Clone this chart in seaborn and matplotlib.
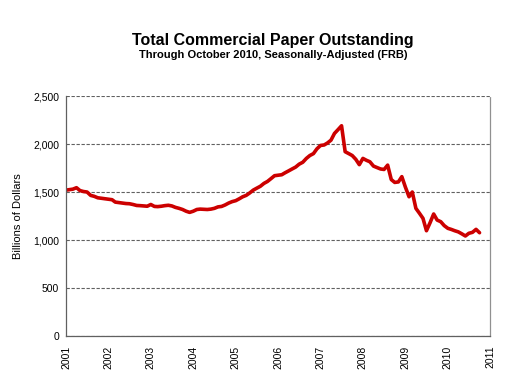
import pandas as pd
import numpy as np
import matplotlib
matplotlib.use("Agg")
import matplotlib.pyplot as plt
import matplotlib.dates as mdates
import seaborn as sns

# monthly values, billions of dollars (Jan 2001 - Oct 2010)
v2001 = [1520, 1525, 1530, 1545, 1515, 1505, 1500, 1465, 1455, 1440, 1435, 1430]
v2002 = [1425, 1420, 1395, 1390, 1385, 1380, 1378, 1370, 1360, 1358, 1355, 1352]
v2003 = [1370, 1350, 1348, 1352, 1358, 1362, 1355, 1340, 1330, 1318, 1300, 1288]
v2004 = [1300, 1318, 1322, 1320, 1318, 1322, 1330, 1345, 1350, 1365, 1385, 1400]
v2005 = [1410, 1430, 1450, 1465, 1490, 1520, 1540, 1560, 1590, 1610, 1640, 1670]
v2006 = [1675, 1680, 1700, 1720, 1740, 1760, 1790, 1810, 1850, 1880, 1900, 1950]
v2007 = [1985, 1990, 2010, 2040, 2110, 2150, 2190, 1920, 1900, 1880, 1840, 1785]
v2008 = [1850, 1830, 1815, 1770, 1755, 1740, 1735, 1780, 1630, 1600, 1605, 1660]
v2009 = [1550, 1451, 1500, 1330, 1280, 1226, 1097, 1180, 1271, 1208, 1191, 1150]
v2010 = [1122, 1110, 1097, 1085, 1065, 1042, 1070, 1080, 1111, 1076]

values = v2001 + v2002 + v2003 + v2004 + v2005 + v2006 + v2007 + v2008 + v2009 + v2010
dates = pd.date_range("2001-01-01", periods=len(values), freq="MS")
df = pd.DataFrame({"Date": dates, "Value": values})

sns.set_style("white")
plt.rcParams['font.family'] = ['Liberation Sans', 'DejaVu Sans']
plt.rcParams['text.color'] = 'black'
plt.rcParams['xtick.color'] = 'black'
plt.rcParams['ytick.color'] = 'black'
plt.rcParams['axes.labelcolor'] = 'black'

fig = plt.figure(figsize=(5.08, 3.81), dpi=100)
ax = fig.add_axes([0.130, 0.118, 0.835, 0.630])

sns.lineplot(data=df, x="Date", y="Value", ax=ax, color="#CC0000", linewidth=2.6)

ax.set_ylim(0, 2500)
ax.set_yticks(range(0, 2501, 500))
ax.set_yticklabels([f"{v:,}" for v in range(0, 2501, 500)], fontsize=7.5)
ax.set_xlim(pd.Timestamp("2001-01-01"), pd.Timestamp("2011-01-01"))
ax.xaxis.set_major_locator(mdates.YearLocator())
ax.xaxis.set_major_formatter(mdates.DateFormatter("%Y"))
plt.setp(ax.get_xticklabels(), rotation=90, fontsize=7.5)

ax.yaxis.grid(True, color="#606060", linestyle=(0, (3, 1.5)), linewidth=0.8)
ax.set_axisbelow(True)
ax.tick_params(axis="both", direction="out", length=3, width=0.8, color="#606060", pad=2)
ax.tick_params(axis="x", pad=4)

ax.spines["left"].set_color("#606060")
ax.spines["bottom"].set_color("#606060")
ax.spines["top"].set_visible(False)
ax.spines["right"].set_color("#909090")
ax.spines["right"].set_linestyle((0, (1, 1)))
for s in ["left", "bottom", "right"]:
    ax.spines[s].set_linewidth(0.9)

ax.set_xlabel("")
ax.set_ylabel("Billions of Dollars", fontsize=8, labelpad=7)

fig.text(0.538, 0.883, "Total Commercial Paper Outstanding", ha="center",
         fontsize=11.5, fontweight="bold")
fig.text(0.538, 0.848, "Through October 2010, Seasonally-Adjusted (FRB)", ha="center",
         fontsize=8, fontweight="bold")

fig.savefig("out.png", dpi=100)
plt.close()
